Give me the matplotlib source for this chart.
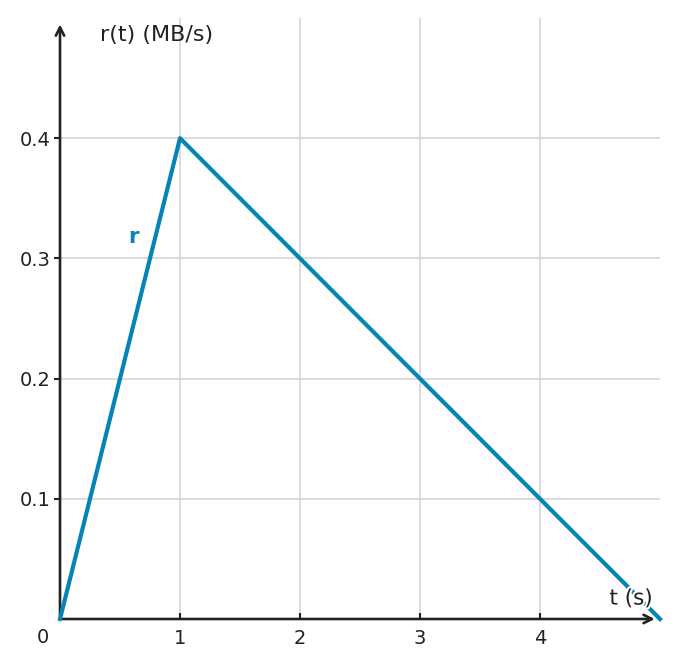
import matplotlib.pyplot as plt
import matplotlib.patheffects as pe

t_vals = [0, 1, 5]
r_vals = [0, 0.4, 0]
x_ticks = [1, 2, 3, 4]
y_ticks = [0.1, 0.2, 0.3, 0.4]

blue = '#0585b6'
dark = '#222222'

fig = plt.figure(figsize=(6.8, 6.68), dpi=100)
ax = fig.add_axes([60 / 680, 49 / 668, 600 / 680, 601 / 668])
ax.set_xlim(0, 5)
ax.set_ylim(0, 0.5)
for s in ax.spines.values():
    s.set_visible(False)

for x in x_ticks:
    ax.axvline(x, color='#d5d5d5', lw=1.2, zorder=0)
for y in y_ticks:
    ax.axhline(y, color='#d5d5d5', lw=1.2, zorder=0)

ax.plot(t_vals, r_vals, color=blue, lw=3, zorder=3, clip_on=False)

# axes with arrows
ax.annotate('', xy=(4.98, 0), xytext=(0, 0),
            arrowprops=dict(arrowstyle='->', color=dark, lw=1.9, mutation_scale=15),
            zorder=2, annotation_clip=False)
ax.annotate('', xy=(0, 0.497), xytext=(0, 0),
            arrowprops=dict(arrowstyle='->', color=dark, lw=1.9, mutation_scale=15),
            zorder=2, annotation_clip=False)

ax.set_xticks(x_ticks)
ax.set_yticks(y_ticks)
ax.set_xticklabels([str(x) for x in x_ticks])
ax.set_yticklabels([str(y) for y in y_ticks])
ax.tick_params(axis='both', length=4, width=1.5, color=dark, labelcolor=dark,
               labelsize=14, direction='out', pad=3)
ax.tick_params(axis='x', direction='in', length=4, pad=7)

ax.text(-0.14, -0.0158, '0', ha='center', va='center', fontsize=14, color=dark)
ax.text(0.33, 0.486, 'r(t) (MB/s)', ha='left', va='center', fontsize=16, color=dark)
ax.text(4.94, 0.017, 't (s)', ha='right', va='center', fontsize=15.5, color=dark, zorder=4,
        path_effects=[pe.withStroke(linewidth=3, foreground='white')])
ax.text(0.61, 0.318, 'r', ha='center', va='center', fontsize=15.5, color=blue,
        fontweight='bold')

fig.savefig('out.png', dpi=100)
